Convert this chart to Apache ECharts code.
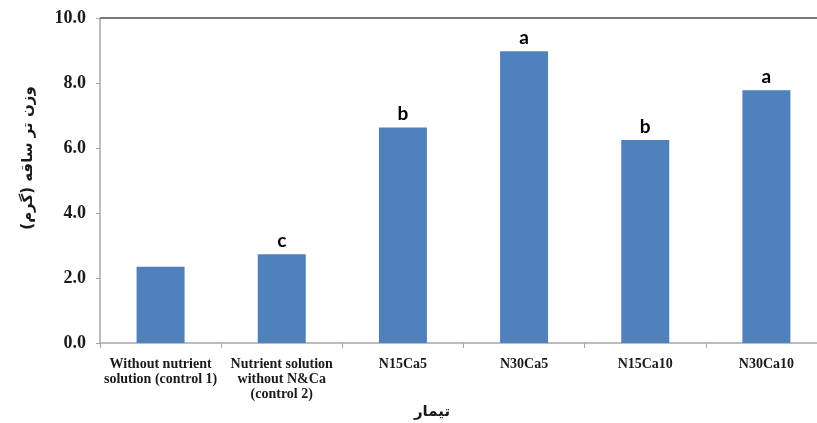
<!DOCTYPE html>
<html>
<head>
<meta charset="utf-8">
<script src="https://cdn.jsdelivr.net/npm/echarts@6/dist/echarts.min.js"></script>
<style>
html,body{margin:0;padding:0;background:#fff;}
#chart{width:817px;height:423px;}
</style>
</head>
<body>
<div id="chart"></div>
<script>
var categories = [
  "Without nutrient\nsolution (control 1)",
  "Nutrient solution\nwithout N&Ca\n(control 2)",
  "N15Ca5",
  "N30Ca5",
  "N15Ca10",
  "N30Ca10"
];
var values = [2.35, 2.73, 6.63, 8.98, 6.25, 7.78];
var letters = ["", "c", "b", "a", "b", "a"];
var yTitle = "وزن تر ساقه (گرم)";
var xTitle = "تیمار";

var chart = echarts.init(document.getElementById('chart'));
chart.setOption({
  animation: false,
  backgroundColor: '#ffffff',
  grid: {
    left: 100, top: 18, bottom: 80, right: -10,
    outerBoundsMode: 'none',
    containLabel: false,
    show: true, borderWidth: 0, backgroundColor: 'transparent'
  },
  xAxis: {
    type: 'category',
    data: categories,
    axisLine: { show: true, lineStyle: { color: '#a6a6a6', width: 1.5 } },
    axisTick: { show: true, alignWithLabel: false, length: 5, lineStyle: { color: '#a6a6a6' } },
    axisLabel: {
      interval: 0,
      color: '#1a1a1a',
      fontFamily: 'Liberation Serif',
      fontWeight: 'bold',
      fontSize: 14,
      lineHeight: 15,
      margin: 14
    }
  },
  yAxis: {
    type: 'value',
    min: 0, max: 10, interval: 2,
    axisLine: { show: true, lineStyle: { color: '#a6a6a6', width: 1.5 } },
    axisTick: { show: true, length: 4, lineStyle: { color: '#a6a6a6' } },
    splitLine: { show: false },
    axisLabel: {
      color: '#1a1a1a',
      fontFamily: 'Liberation Serif',
      fontWeight: 'bold',
      fontSize: 18,
      margin: 14,
      formatter: function (v) { return v.toFixed(1); }
    }
  },
  series: [{
    type: 'bar',
    data: values,
    barWidth: 48,
    itemStyle: { color: '#4f81bd' },
    label: {
      show: true,
      position: 'top',
      distance: 4,
      color: '#000',
      fontFamily: 'Lato',
      fontWeight: 'bold',
      fontSize: 19,
      formatter: function (p) { return letters[p.dataIndex]; }
    },
    markLine: {
      silent: true,
      symbol: 'none',
      label: { show: false },
      lineStyle: { color: '#7a7a7a', width: 2, type: 'solid' },
      data: [{ yAxis: 10 }]
    }
  }],
  graphic: [
    {
      type: 'text',
      x: 28, y: 158,
      rotation: Math.PI / 2,
      style: {
        text: yTitle,
        fill: '#1a1a1a',
        font: 'bold 15px "DejaVu Sans"',
        align: 'center',
        verticalAlign: 'middle'
      }
    },
    {
      type: 'text',
      x: 432, y: 412,
      style: {
        text: xTitle,
        fill: '#1a1a1a',
        font: 'bold 15px "DejaVu Sans"',
        align: 'center',
        verticalAlign: 'middle'
      }
    }
  ]
});
</script>
</body>
</html>
